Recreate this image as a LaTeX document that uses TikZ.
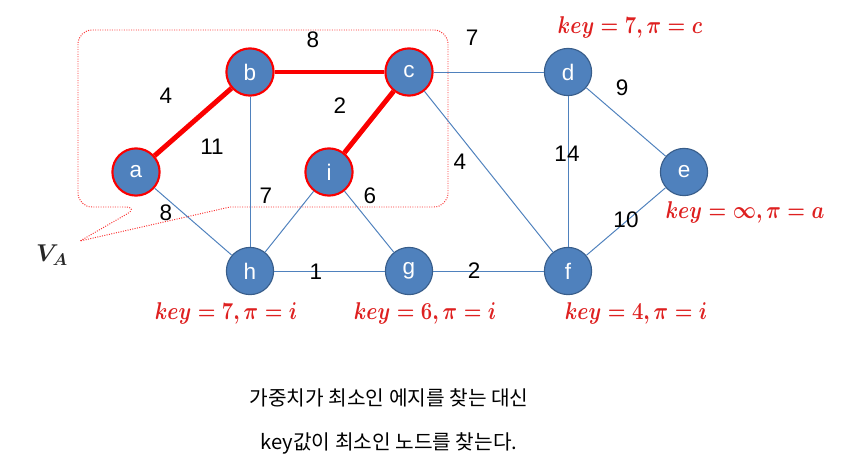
\documentclass[tikz,border=0pt]{standalone}
\usepackage{fontspec}
\setmainfont{Liberation Sans}
\newfontfamily\kofont{Noto Sans CJK KR}
\usetikzlibrary{positioning}

\definecolor{nodeblue}{RGB}{79,129,189}
\definecolor{nodeline}{RGB}{56,93,138}
\definecolor{keyred}{RGB}{222,32,32}
\definecolor{treered}{RGB}{250,0,0}

\newcommand{\keytext}[1]{\scalebox{1}[1.2]{$#1$}}

\begin{document}
\begin{tikzpicture}[x=0.025cm, y=-0.025cm,
                    vnode/.style={circle, draw=nodeline, fill=nodeblue, line width=0.8pt, minimum size=1.18cm, inner sep=0pt, text=white, font=\fontsize{16}{18}\selectfont},
                    anode/.style={vnode, draw=treered, line width=1.5pt},
                    graphline/.style={draw=nodeblue, line width=0.7pt},
                    treeline/.style={draw=treered, line width=3.5pt},
                    wlabel/.style={font=\fontsize{16}{18}\selectfont},
                    keylabel/.style={text=keyred, font=\fontsize{14}{16}\selectfont\boldmath},
                    vabox/.style={draw=treered!80, densely dotted, line width=0.7pt},
                ]
                    \useasboundingbox (0,0) rectangle (861,468);

                    %Callout
                    \draw[vabox] (300,207) [rounded corners=10pt] -- (448,207) -- (448,30) -- (78,30) -- (78,207) -- (139,207)
                        [sharp corners] -- (80,241) -- (230,207) -- (300,207);
                    \node[font=\fontsize{18}{20}\selectfont\boldmath, text=black!85](va) at (52,255) {$V_A$};

                    %Nodes
                    \node[anode](a) at (136,172) {a};
                    \node[anode](b) at (250,72) {b};
                    \node[anode](c) at (409,72) {c};
                    \node[anode](i) at (329,172) {i};
                    \node[vnode](h) at (250,271) {h};
                    \node[vnode](g) at (409,271) {g};
                    \node[vnode](f) at (568,271) {f};
                    \node[vnode](d) at (568,72) {d};
                    \node[vnode](e) at (684,172) {e};

                    %Lines
                    \draw[graphline](a) -- (h);
                    \draw[graphline](b) -- (h);
                    \draw[graphline](i) -- (h);
                    \draw[graphline](i) -- (g);
                    \draw[graphline](h) -- (g);
                    \draw[graphline](g) -- (f);
                    \draw[graphline](c) -- (d);
                    \draw[graphline](c) -- (f);
                    \draw[graphline](d) -- (e);
                    \draw[graphline](d) -- (f);
                    \draw[graphline](e) -- (f);
                    \draw[treeline](a) -- (b);
                    \draw[treeline](b) -- (c);
                    \draw[treeline](c) -- (i);

                    %Weights
                    \node[wlabel](wbc) at (313,40) {8};
                    \node[wlabel](wab) at (166,96) {4};
                    \node[wlabel](wci) at (340,106) {2};
                    \node[wlabel](wbh) at (212,147) {11};
                    \node[wlabel](wah) at (166,213) {8};
                    \node[wlabel](wih) at (266,196) {7};
                    \node[wlabel](wig) at (370,196) {6};
                    \node[wlabel](wcd) at (472,38) {7};
                    \node[wlabel](wcf) at (460,162) {4};
                    \node[wlabel](wde) at (622,88) {9};
                    \node[wlabel](wdf) at (567,154) {14};
                    \node[wlabel](wef) at (626,220) {10};
                    \node[wlabel](whg) at (316,272) {1};
                    \node[wlabel](wgf) at (474,271) {2};

                    %Keys
                    \node[keylabel](keyd) at (630,27) {\keytext{key=7,\pi=c}};
                    \node[keylabel](keye) at (745,212) {\keytext{key=\infty,\pi=a}};
                    \node[keylabel](keyh) at (226,313) {\keytext{key=7,\pi=i}};
                    \node[keylabel](keyg) at (425,313) {\keytext{key=6,\pi=i}};
                    \node[keylabel](keyf) at (636,313) {\keytext{key=4,\pi=i}};

                    %Caption
                    \node[font=\kofont\fontsize{14.4}{16}\selectfont](cap1) at (389,398) {가중치가 최소인 에지를 찾는 대신};
                    \node[font=\kofont\fontsize{14.4}{16}\selectfont](cap2) at (389,443) {key값이 최소인 노드를 찾는다.};
                \end{tikzpicture}
\end{document}
